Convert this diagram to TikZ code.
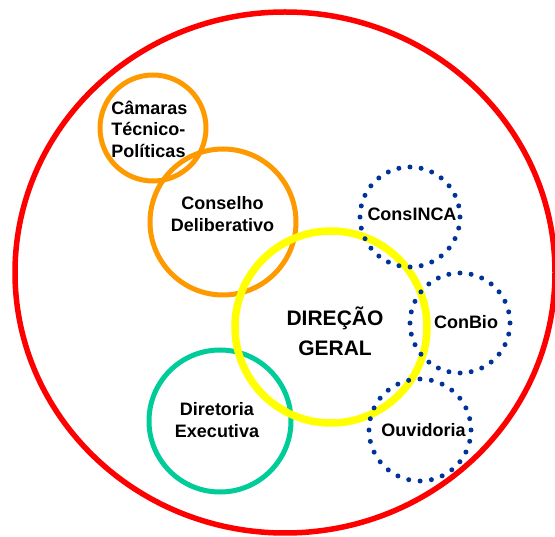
\documentclass[tikz,border=0pt]{standalone}
\usepackage{fontspec}
\setmainfont{Liberation Sans}
\usetikzlibrary{shapes.geometric}
\definecolor{ringred}{HTML}{FF0000}
\definecolor{ringorange}{HTML}{FF9900}
\definecolor{ringyellow}{HTML}{FFFF00}
\definecolor{ringteal}{HTML}{00CC99}
\definecolor{dotblue}{HTML}{003399}
\begin{document}
\begin{tikzpicture}[x=1pt,y=-1pt,
  ring/.style={circle, inner sep=0pt, line width=5pt, minimum size=#1},
  dotring/.style 2 args={circle, inner sep=0pt, draw=dotblue, line width=5pt,
    line cap=round, minimum size=2*#1, dash pattern=on 0pt off {2*pi*#1/#2}},
  lbl/.style={font=\bfseries\fontsize{18}{21.5}\selectfont, align=center, inner sep=0pt},
  biglbl/.style={font=\bfseries\fontsize{21}{30}\selectfont, align=center, inner sep=0pt},
]
\useasboundingbox (0,0) rectangle (555,537);

% outer boundary
\node[ellipse, draw=ringred, line width=5.5pt, inner sep=0pt,
      minimum width=540pt, minimum height=521pt] (outer) at (285,272.5) {};

% orange councils
\node[ring=106pt, draw=ringorange] (camaras) at (153,128) {};
\node[ring=146pt, draw=ringorange] (conselho) at (223,222) {};

% executive board
\node[ring=142pt, draw=ringteal] (diretoria) at (220,421) {};

% central direction
\node[circle, inner sep=0pt, line width=7.5pt, draw=ringyellow, minimum size=192pt] (direcao) at (331,327) {};

% dotted advisory bodies
\node[dotring={50pt}{28}] (consinca) at (410,217) {};
\node[dotring={50pt}{28}] (conbio) at (460,323) {};
\node[dotring={51pt}{28}] (ouvidoria) at (420,430) {};

% labels
\node[lbl, align=left] (tcamaras) at (149.5,129) {Câmaras\\Técnico-\\Políticas};
\node[lbl] (tconselho) at (222.5,214) {Conselho\\Deliberativo};
\node[lbl] (tdiretoria) at (217,420) {Diretoria\\Executiva};
\node[biglbl] (tdirecao) at (335,331) {DIREÇÃO\\GERAL};
\node[lbl] (tconsinca) at (412,214.5) {ConsINCA};
\node[lbl] (tconbio) at (466,322) {ConBio};
\node[lbl] (touvidoria) at (423.5,430) {Ouvidoria};
\end{tikzpicture}
\end{document}
